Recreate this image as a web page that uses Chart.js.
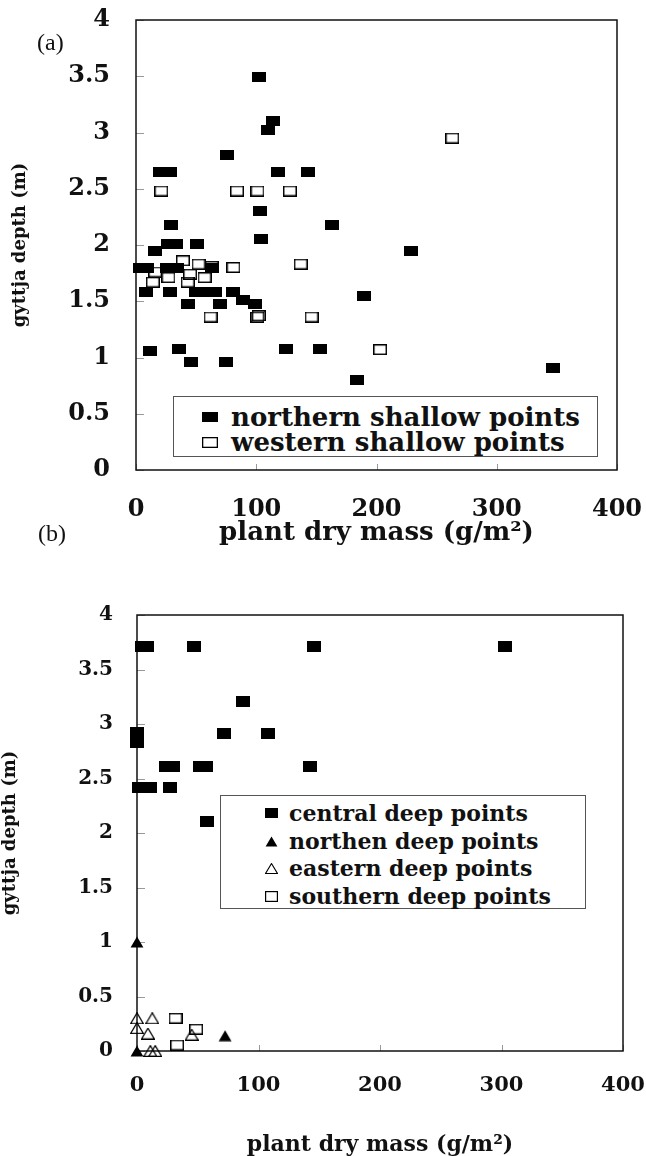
<!DOCTYPE html>
<html><head><meta charset="utf-8">
<script src="https://cdn.jsdelivr.net/npm/chart.js@4.4.1/dist/chart.umd.min.js"></script>
<style>
html,body{margin:0;padding:0;background:#fff;}
body{width:646px;height:1156px;position:relative;overflow:hidden;}
#wa{position:absolute;left:0;top:0;width:646px;height:560px;}
#wb{position:absolute;left:0;top:560px;width:646px;height:596px;}
.lbl{position:absolute;font-family:"Liberation Serif","Times New Roman",serif;font-size:24px;line-height:24px;color:#111;}
.leg{position:absolute;border:1px solid #555;background:#fff;box-sizing:border-box;}
.row{position:absolute;left:0;right:0;white-space:nowrap;font-family:"DejaVu Serif",serif;font-weight:bold;color:#111;}
.row canvas{position:absolute;}
.row span{position:absolute;}
</style></head><body>
<div id="wa"><canvas id="ca" width="646" height="560"></canvas></div>
<div id="wb"><canvas id="cb" width="646" height="596"></canvas></div>
<div class="lbl" style="left:37px;top:30px">(a)</div>
<div class="lbl" style="left:38px;top:521px">(b)</div>
<div class="leg" id="lega" style="left:173px;top:396px;width:425px;height:61px"></div>
<div class="leg" id="legb" style="left:220px;top:795px;width:366px;height:114px"></div>
<script>
// ---- tick labels & titles ----
const xTickLabels = ['0', '100', '200', '300', '400'];
const yTickLabels = ['0', '0.5', '1', '1.5', '2', '2.5', '3', '3.5', '4'];
const xTitle = 'plant dry mass (g/m²)';
const yTitle = 'gyttja depth (m)';

// ---- panel (a) ----
const northernShallowX = [102, 114, 110, 76, 20, 28, 118, 143, 103, 29, 163, 104, 27, 33, 51, 16, 229, 3, 9, 26, 34, 63, 190, 8, 28, 50, 58, 66, 43, 70, 81, 89, 99, 12, 36, 46, 75, 125, 153, 184, 347];
const northernShallowY = [3.49, 3.10, 3.02, 2.80, 2.65, 2.65, 2.65, 2.65, 2.30, 2.18, 2.18, 2.05, 2.01, 2.01, 2.01, 1.95, 1.95, 1.80, 1.80, 1.80, 1.80, 1.80, 1.55, 1.58, 1.58, 1.58, 1.58, 1.58, 1.48, 1.48, 1.58, 1.51, 1.48, 1.06, 1.08, 0.96, 0.96, 1.08, 1.08, 0.80, 0.91];
const westernShallowX = [263, 21, 84, 101, 128, 137, 81, 39, 52, 63, 27, 57, 14, 43, 45, 16, 62, 101, 102, 146, 203];
const westernShallowY = [2.95, 2.48, 2.48, 2.48, 2.48, 1.83, 1.80, 1.86, 1.83, 1.81, 1.71, 1.71, 1.67, 1.67, 1.74, 1.76, 1.36, 1.36, 1.37, 1.36, 1.07];

// ---- panel (b) ----
const centralDeepX = [4, 8.5, 46.6, 146, 303, 87.5, 71.5, 108, 0, 0, 24, 30, 52, 57, 142, 2, 7, 11, 27, 58];
const centralDeepY = [3.71, 3.71, 3.71, 3.71, 3.71, 3.21, 2.91, 2.91, 2.92, 2.83, 2.61, 2.61, 2.61, 2.61, 2.61, 2.42, 2.42, 2.42, 2.42, 2.11];
const northenDeepX = [0, 0, 72.5];
const northenDeepY = [1.0, 0.0, 0.14];
const easternDeepX = [0, 0, 12.6, 9, 11, 15, 45];
const easternDeepY = [0.30, 0.21, 0.30, 0.16, 0.0, 0.0, 0.15];
const southernDeepX = [31.7, 33, 48.7];
const southernDeepY = [0.30, 0.055, 0.20];

const seriesA = ['northern shallow points', 'western shallow points'];
const seriesB = ['central deep points', 'northen deep points', 'eastern deep points', 'southern deep points'];

function pts(xs, ys) { return xs.map((x, i) => ({x: x, y: ys[i]})); }

function mk(shape, w, h, filled, lw) {
  const c = document.createElement('canvas'); c.width = w; c.height = h;
  const g = c.getContext('2d');
  g.fillStyle = '#000'; g.strokeStyle = '#000'; g.lineWidth = lw;
  if (shape === 'rect') {
    if (filled) g.fillRect(0, 0, w, h);
    else g.strokeRect(lw / 2, lw / 2, w - lw, h - lw);
  } else {
    g.beginPath(); g.moveTo(w / 2, lw / 2); g.lineTo(w - lw / 2, h - lw / 2); g.lineTo(lw / 2, h - lw / 2); g.closePath();
    if (filled) g.fill(); else g.stroke();
  }
  return c;
}

const frame = {
  id: 'frame',
  beforeDatasetsDraw(chart) {
    const {ctx, chartArea: a, scales} = chart;
    ctx.save();
    ctx.strokeStyle = '#999'; ctx.lineWidth = 1;
    scales.y.ticks.forEach(t => {
      const py = Math.round(scales.y.getPixelForValue(t.value)) + 0.5;
      ctx.beginPath(); ctx.moveTo(a.left, py); ctx.lineTo(a.left + 8, py); ctx.stroke();
    });
    scales.x.ticks.forEach(t => {
      const px = Math.round(scales.x.getPixelForValue(t.value)) + 0.5;
      ctx.beginPath(); ctx.moveTo(px, a.bottom); ctx.lineTo(px, a.bottom - 6); ctx.stroke();
    });
    ctx.strokeStyle = '#111'; ctx.lineWidth = 1.5;
    ctx.strokeRect(a.left, a.top, a.right - a.left, a.bottom - a.top);
    ctx.restore();
  }
};

function noPad(s) { s.paddingTop = 0; s.paddingBottom = 0; s.paddingLeft = 0; s.paddingRight = 0; }

function makeChart(id, datasets, cfg) {
  const F = 'DejaVu Serif';
  return new Chart(document.getElementById(id), {
    type: 'scatter',
    data: {datasets: datasets},
    options: {
      responsive: false, animation: false, devicePixelRatio: 1,
      layout: {padding: cfg.pad},
      plugins: {legend: {display: false}, tooltip: {enabled: false}},
      scales: {
        x: {
          type: 'linear', min: 0, max: 400,
          ticks: {stepSize: 100, padding: cfg.xtp, color: '#111', font: {family: F, weight: 'bold', size: cfg.xts}, callback: (v, i) => xTickLabels[i]},
          grid: {display: false, drawTicks: false}, border: {display: false},
          title: {display: true, text: xTitle, color: '#111', font: {family: F, weight: 'bold', size: cfg.xtt, lineHeight: 1}, padding: {top: 0, bottom: cfg.xttp}},
          afterFit: s => { s.height = cfg.xh; noPad(s); }
        },
        y: {
          type: 'linear', min: 0, max: 4,
          ticks: {stepSize: 0.5, padding: cfg.ytp, color: '#111', font: {family: F, weight: 'bold', size: cfg.yts}, callback: (v, i) => yTickLabels[i]},
          grid: {display: false, drawTicks: false}, border: {display: false},
          title: {display: true, text: yTitle, color: '#111', font: {family: F, weight: 'bold', size: 18, lineHeight: 1.2}, padding: {top: cfg.yttp, bottom: 0}},
          afterFit: s => { s.width = cfg.yw; noPad(s); }
        }
      }
    },
    plugins: [frame]
  });
}

const sqA = mk('rect', 14, 10, true, 1.5), osqA = mk('rect', 14, 11, false, 1.5);
makeChart('ca', [
  {label: seriesA[0], data: pts(northernShallowX, northernShallowY), pointStyle: sqA, pointRadius: 5, clip: false},
  {label: seriesA[1], data: pts(westernShallowX, westernShallowY), pointStyle: osqA, pointRadius: 5, clip: false}
], {pad: {left: 0, top: 20, right: 29, bottom: 0}, xh: 90, yw: 136, xtp: 25, xts: 24, xtt: 26, xttp: 14, ytp: 26, yts: 24, yttp: 10});

const sqB = mk('rect', 14, 11, true, 1.5), triB = mk('tri', 14, 12, true, 1.2), otriB = mk('tri', 14, 12, false, 1.2), osqB = mk('rect', 14, 11, false, 1.5);
makeChart('cb', [
  {label: seriesB[0], data: pts(centralDeepX, centralDeepY), pointStyle: sqB, pointRadius: 5, clip: false},
  {label: seriesB[1], data: pts(northenDeepX, northenDeepY), pointStyle: triB, pointRadius: 5, clip: false},
  {label: seriesB[2], data: pts(easternDeepX, easternDeepY), pointStyle: otriB, pointRadius: 5, clip: false},
  {label: seriesB[3], data: pts(southernDeepX, southernDeepY), pointStyle: osqB, pointRadius: 5, clip: false}
], {pad: {left: 0, top: 55, right: 23, bottom: 0}, xh: 105, yw: 137, xtp: 22, xts: 21, xtt: 22, xttp: 0, ytp: 24, yts: 20, yttp: 0});

function legend(boxId, names, markers, rows, mcx, tx, fs, lh) {
  const box = document.getElementById(boxId);
  names.forEach((n, i) => {
    const r = document.createElement('div'); r.className = 'row';
    r.style.top = (rows[i] - lh / 2 - 1) + 'px'; r.style.height = lh + 'px';
    r.style.lineHeight = lh + 'px'; r.style.fontSize = fs + 'px';
    const m = markers[i];
    m.style.left = (mcx - m.width / 2) + 'px'; m.style.top = (lh / 2 - m.height / 2) + 'px';
    r.appendChild(m);
    const s = document.createElement('span'); s.textContent = n; s.style.left = tx + 'px'; s.style.top = '0px';
    r.appendChild(s);
    box.appendChild(r);
  });
}
legend('lega', seriesA, [mk('rect', 16, 10, true, 1.5), mk('rect', 16, 11, false, 1.3)], [21, 46], 36, 57, 26, 26);
legend('legb', seriesB, [mk('rect', 13, 10, true, 1.5), mk('tri', 13, 11, true, 1.2), mk('tri', 13, 11, false, 1.1), mk('rect', 13, 11, false, 1.2)], [18, 46, 73, 101], 50, 68, 22, 26);
</script>
</body></html>
